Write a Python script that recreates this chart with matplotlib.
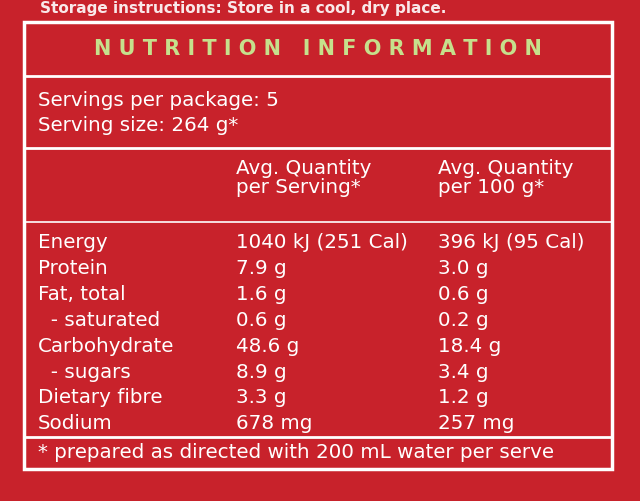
import matplotlib
matplotlib.use("Agg")
import matplotlib.pyplot as plt
from matplotlib.patches import Rectangle

# ---- label data ----
nutrients = ["Energy", "Protein", "Fat, total", "  - saturated", "Carbohydrate",
             "  - sugars", "Dietary fibre", "Sodium"]
per_serving = ["1040 kJ (251 Cal)", "7.9 g", "1.6 g", "0.6 g", "48.6 g",
               "8.9 g", "3.3 g", "678 mg"]
per_100g = ["396 kJ (95 Cal)", "3.0 g", "0.6 g", "0.2 g", "18.4 g",
            "3.4 g", "1.2 g", "257 mg"]
header_serving = "Avg. Quantity\nper Serving*"
header_100g = "Avg. Quantity\nper 100 g*"
servings_lines = ["Servings per package: 5", "Serving size: 264 g*"]
footnote = "* prepared as directed with 200 mL water per serve"

RED = "#c8222b"
W, H = 640, 501

fig = plt.figure(figsize=(6.4, 5.01), dpi=100)
fig.patch.set_facecolor(RED)
ax = fig.add_axes([0, 0, 1, 1])
ax.set_xlim(0, W)
ax.set_ylim(H, 0)
ax.axis("off")
ax.set_facecolor(RED)

txt = dict(color="white", family="DejaVu Sans", fontsize=14.3, va="center")

# partial top line (cut off in the photo)
ax.text(40, 8, "Storage instructions: Store in a cool, dry place.",
        color="white", fontsize=11, fontweight="bold", va="center", alpha=0.9)

# box and rules
ax.add_patch(Rectangle((24, 22), 588, 447, fill=False, ec="white", lw=2.5))
for y in (76, 148, 437):
    ax.plot([24, 612], [y, y], color="white", lw=2)
ax.plot([24, 612], [222, 222], color="white", lw=1.2)

ax.text(318, 49, " ".join("NUTRITION") + "   " + " ".join("INFORMATION"),
        color="#c6e08c", fontsize=15, fontweight="bold", ha="center", va="center")

for i, s in enumerate(servings_lines):
    ax.text(38, 100 + i * 25, s, **txt)

ax.text(236, 178, header_serving, linespacing=1.0, **txt)
ax.text(438, 178, header_100g, linespacing=1.0, **txt)

y0, dy = 243, 25.8
for i, (n, a, b) in enumerate(zip(nutrients, per_serving, per_100g)):
    y = y0 + i * dy
    ax.text(38, y, n, **txt)
    ax.text(236, y, a, **txt)
    ax.text(438, y, b, **txt)

ax.text(38, 452, footnote, **txt)

fig.savefig("out.png", dpi=100, facecolor=RED)
